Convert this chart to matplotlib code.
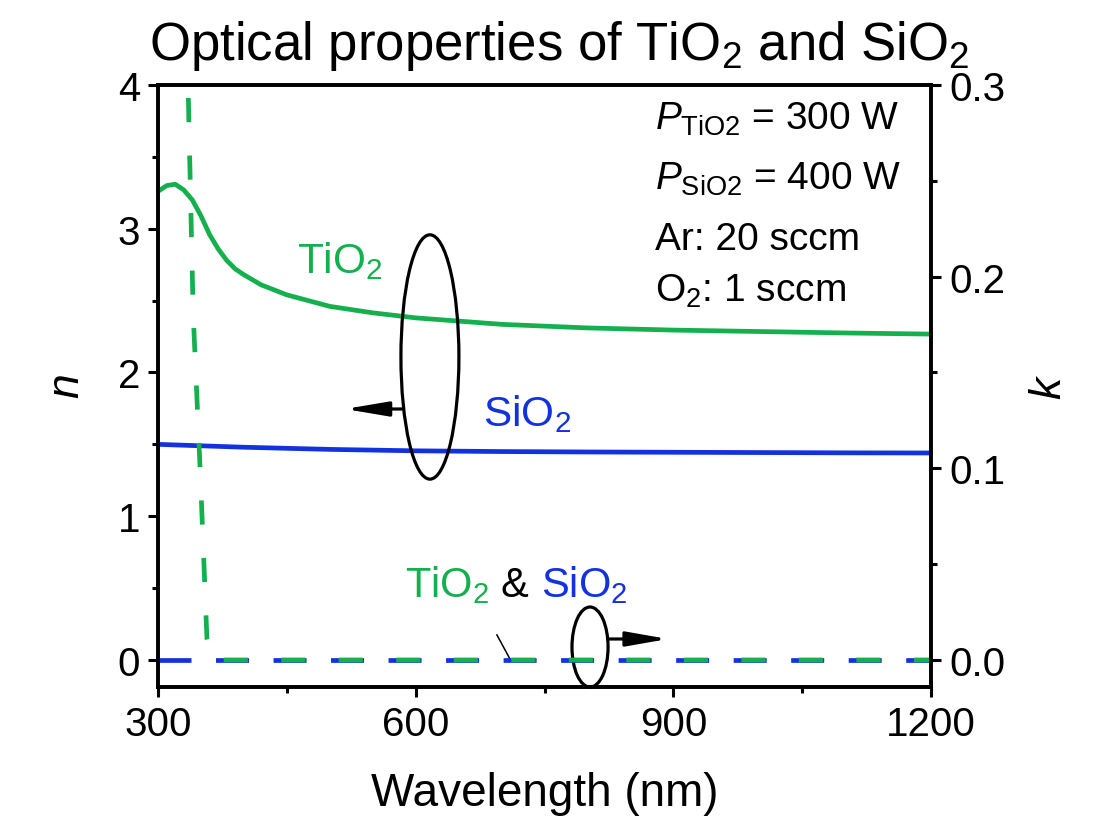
import matplotlib
matplotlib.use("Agg")
import matplotlib.pyplot as plt
from matplotlib.patches import Ellipse
from matplotlib.ticker import MultipleLocator, FormatStrFormatter

plt.rcParams['font.family'] = ['Liberation Sans', 'DejaVu Sans']
plt.rcParams['mathtext.fontset'] = 'custom'
plt.rcParams['mathtext.rm'] = 'Liberation Sans'
plt.rcParams['mathtext.it'] = 'Liberation Sans:italic'
plt.rcParams['mathtext.bf'] = 'Liberation Sans:bold'

# ---------------- data ----------------
wl_n_tio2 = [300, 310, 320, 330, 340, 350, 360, 370, 380, 390, 400, 420, 450,
             500, 550, 600, 700, 800, 900, 1000, 1100, 1200]
n_tio2 = [3.26, 3.30, 3.31, 3.27, 3.20, 3.09, 2.96, 2.86, 2.78, 2.72, 2.68,
          2.61, 2.54, 2.46, 2.415, 2.38, 2.335, 2.31, 2.295, 2.285, 2.275, 2.267]

wl_n_sio2 = [300, 400, 500, 600, 700, 800, 900, 1000, 1100, 1200]
n_sio2 = [1.50, 1.48, 1.465, 1.455, 1.45, 1.447, 1.445, 1.443, 1.441, 1.44]

wl_k_tio2 = [330, 335, 341, 349, 357, 362, 400, 500, 600, 700, 800, 900, 1000, 1100, 1200]
k_tio2 = [0.33, 0.30, 0.18, 0.10, 0.011, 0.0, 0.0, 0.0, 0.0, 0.0, 0.0, 0.0, 0.0, 0.0, 0.0]

wl_k_sio2 = [300, 400, 500, 600, 700, 800, 900, 1000, 1100, 1200]
k_sio2 = [0.0, 0.0, 0.0, 0.0, 0.0, 0.0, 0.0, 0.0, 0.0, 0.0]

x_ticks = [300, 600, 900, 1200]
n_ticks = [0, 1, 2, 3, 4]
k_ticks = [0.0, 0.1, 0.2, 0.3]

GREEN = '#14b04e'
BLUE = '#1232e0'
LW = 3.4

fig = plt.figure(figsize=(11, 8.28), dpi=100)
ax = fig.add_axes([158/1100, 1-688/828, (931-158)/1100, (688-86)/828])
ax2 = ax.twinx()

ax.plot(wl_n_tio2, n_tio2, color=GREEN, lw=LW, solid_capstyle='butt')
ax.plot(wl_n_sio2, n_sio2, color=BLUE, lw=LW, solid_capstyle='butt')

ax2.plot(wl_k_sio2, k_sio2, color=BLUE, lw=LW, linestyle=(0, (6.99, 5.19)))
ax2.plot(wl_k_tio2, k_tio2, color=GREEN, lw=LW, linestyle=(9.39, (5.12, 7.06)))

ax.set_xlim(300, 1200)
ax.set_ylim(-0.188, 4)
ax2.set_ylim(-0.0141, 0.3)

ax.set_xticks(x_ticks)
ax.set_yticks(n_ticks)
ax2.set_yticks(k_ticks)
ax2.yaxis.set_major_formatter(FormatStrFormatter('%.1f'))
ax.xaxis.set_minor_locator(MultipleLocator(150))
ax.yaxis.set_minor_locator(MultipleLocator(0.5))
ax2.yaxis.set_minor_locator(MultipleLocator(0.05))

for a in (ax, ax2):
    for s in a.spines.values():
        s.set_linewidth(2.6)
    a.tick_params(which='major', length=7, width=2.2, labelsize=29, pad=6)
    a.tick_params(which='minor', length=4, width=2.2)
ax.tick_params(axis='x', which='both', top=False)
ax2.tick_params(axis='y', which='both', right=True, left=False)

ax.set_xlabel('Wavelength (nm)', fontsize=33, labelpad=20)
ax.set_ylabel('$n$', fontsize=32, labelpad=21)
ax2.set_ylabel('$k$', fontsize=32, rotation=90, labelpad=17)

fig.text(559/1100, 1-60/828, 'Optical properties of TiO$_2$ and SiO$_2$',
         fontsize=38, ha='center', va='baseline')

# curve labels
ax.text(461.8, 2.70, 'TiO$_2$', color=GREEN, fontsize=30.5, va='baseline')
ax.text(678, 1.635, 'SiO$_2$', color=BLUE, fontsize=30.5, va='baseline')
ax.text(587.5, 0.445, 'TiO$_2$', color=GREEN, fontsize=30, va='baseline')
ax.text(699.3, 0.445, '&', color='black', fontsize=30, va='baseline')
ax.text(745.9, 0.445, 'SiO$_2$', color=BLUE, fontsize=30, va='baseline')

# conditions
cond = [r'$P_{\rm TiO2}$ = 300 W', r'$P_{\rm SiO2}$ = 400 W', 'Ar: 20 sccm', 'O$_2$: 1 sccm']
ys = [0.927, 0.827, 0.7276, 0.641]
for t, yy in zip(cond, ys):
    ax.text(0.643, yy, t, transform=ax.transAxes, fontsize=28, va='baseline', ha='left')

# ellipses and arrows
ax.add_patch(Ellipse((616.6, 2.108), 67.5, 1.70, fill=False, lw=2.3, ec='black', zorder=5))
ax.add_patch(Ellipse((803, 0.09), 42, 0.557, fill=False, lw=2.3, ec='black', zorder=5,
                     clip_on=False))
ax.annotate('', xy=(517.7, 1.746), xytext=(585, 1.746),
            arrowprops=dict(arrowstyle='-|>,head_length=1.3,head_width=0.22',
                            mutation_scale=20, lw=2.3, color='black',
                            shrinkA=0, shrinkB=0))
ax.annotate('', xy=(893.7, 0.146), xytext=(825, 0.146),
            arrowprops=dict(arrowstyle='-|>,head_length=1.25,head_width=0.22',
                            mutation_scale=20, lw=2.3, color='black',
                            shrinkA=0, shrinkB=0))
ax.plot([694.6, 709.8], [0.174, 0.007], color='black', lw=1.1)

fig.savefig('out.png', dpi=100)
